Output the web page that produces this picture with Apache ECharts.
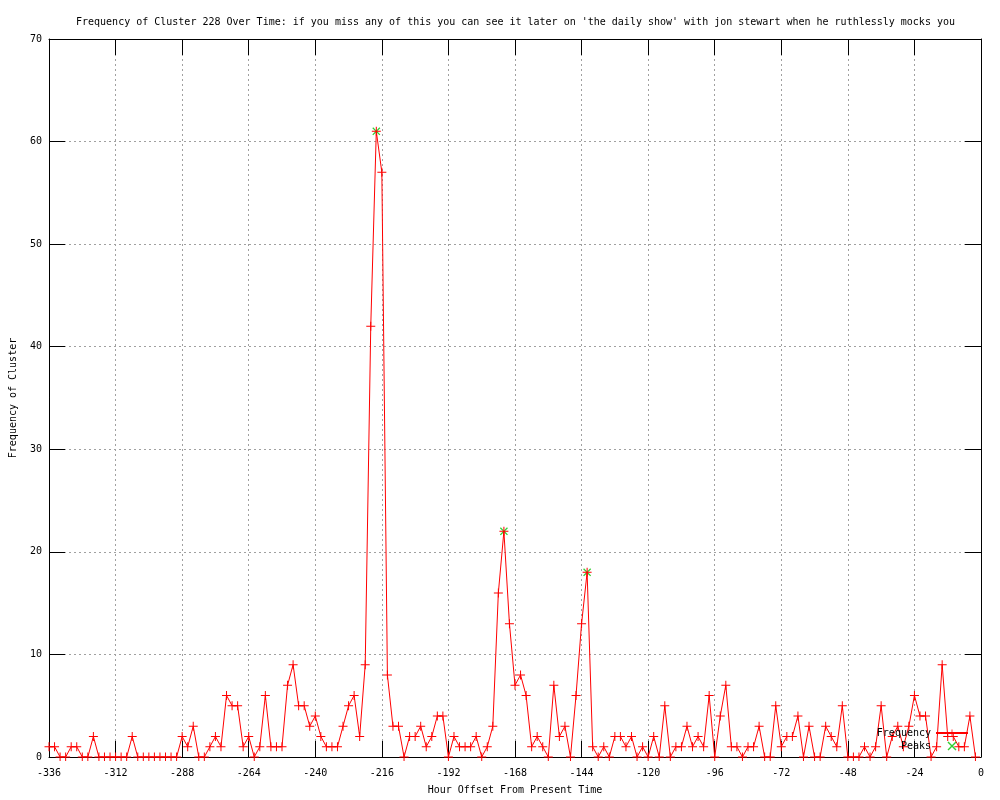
<!DOCTYPE html>
<html>
<head>
<meta charset="utf-8">
<script src="https://cdn.jsdelivr.net/npm/echarts@6/dist/echarts.min.js"></script>
<style>html,body{margin:0;padding:0;background:#fff;}#c{width:1000px;height:800px;}</style>
</head>
<body>
<div id="c"></div>
<script>
const titleText = "Frequency of Cluster 228 Over Time: if you miss any of this you can see it later on 'the daily show' with jon stewart when he ruthlessly mocks you";
const xAxisName = "Hour Offset From Present Time";
const yAxisName = "Frequency of Cluster";

const hours = [
  -336,-334,-332,-330,-328,-326,-324,-322,-320,-318,
  -316,-314,-312,-310,-308,-306,-304,-302,-300,-298,
  -296,-294,-292,-290,-288,-286,-284,-282,-280,-278,
  -276,-274,-272,-270,-268,-266,-264,-262,-260,-258,
  -256,-254,-252,-250,-248,-246,-244,-242,-240,-238,
  -236,-234,-232,-230,-228,-226,-224,-222,-220,-218,
  -216,-214,-212,-210,-208,-206,-204,-202,-200,-198,
  -196,-194,-192,-190,-188,-186,-184,-182,-180,-178,
  -176,-174,-172,-170,-168,-166,-164,-162,-160,-158,
  -156,-154,-152,-150,-148,-146,-144,-142,-140,-138,
  -136,-134,-132,-130,-128,-126,-124,-122,-120,-118,
  -116,-114,-112,-110,-108,-106,-104,-102,-100,-98,
  -96,-94,-92,-90,-88,-86,-84,-82,-80,-78,
  -76,-74,-72,-70,-68,-66,-64,-62,-60,-58,
  -56,-54,-52,-50,-48,-46,-44,-42,-40,-38,
  -36,-34,-32,-30,-28,-26,-24,-22,-20,-18,
  -16,-14,-12,-10,-8,-6,-4,-2
];

const frequency = [
  1,1,0,0,1,1,0,0,2,0,
  0,0,0,0,0,2,0,0,0,0,
  0,0,0,0,2,1,3,0,0,1,
  2,1,6,5,5,1,2,0,1,6,
  1,1,1,7,9,5,5,3,4,2,
  1,1,1,3,5,6,2,9,42,61,
  57,8,3,3,0,2,2,3,1,2,
  4,4,0,2,1,1,1,2,0,1,
  3,16,22,13,7,8,6,1,2,1,
  0,7,2,3,0,6,13,18,1,0,
  1,0,2,2,1,2,0,1,0,2,
  0,5,0,1,1,3,1,2,1,6,
  0,4,7,1,1,0,1,1,3,0,
  0,5,1,2,2,4,0,3,0,0,
  3,2,1,5,0,0,0,1,0,1,
  5,0,2,3,1,3,6,4,4,0,
  1,9,2,2,1,1,4,0
];

const peakHours = [-218, -172, -142];
const peakValues = [61, 22, 18];

const xTicks = { min: -336, max: 0, interval: 24 };
const yTicks = { min: 0, max: 70, interval: 10 };

const FONT = 'DejaVu Sans Mono';
const plusPath = 'path://M4,0h1v4h4v1h-4v4h-1v-4h-4v-1h4z';
const xPath = 'path://M0,1L1,0L4.5,3.5L8,0L9,1L5.5,4.5L9,8L8,9L4.5,5.5L1,9L0,8L3.5,4.5Z';

const chart = echarts.init(document.getElementById('c'), null, { renderer: 'canvas' });

const gridLine = { show: true, lineStyle: { color: '#a0a0a0', type: [2, 3], width: 1 } };
const axisLineStyle = { show: true, onZero: false, lineStyle: { color: '#000', width: 1 } };
const tickStyle = { show: true, inside: true, length: 16, lineStyle: { color: '#000', width: 1 } };
const labelText = { color: '#000', fontFamily: FONT, fontSize: 10 };

const option = {
  animation: false,
  backgroundColor: '#fff',
  title: {
    text: titleText,
    left: 71,
    top: 12,
    textStyle: { color: '#000', fontFamily: FONT, fontSize: 10, fontWeight: 'normal' }
  },
  grid: { left: 49, right: 19, top: 39, bottom: 40, containLabel: false },
  legend: {
    data: ['Frequency', 'Peaks'],
    orient: 'vertical',
    right: 31,
    top: 727,
    align: 'right',
    itemWidth: 32,
    itemHeight: 9,
    itemGap: 1,
    padding: 0,
    textStyle: { color: '#000', fontFamily: FONT, fontSize: 10, lineHeight: 12 }
  },
  graphic: [
    {
      type: 'rect', z: 100, silent: true,
      shape: { x: 44, y: 761, width: 942, height: 4 },
      style: { fill: '#fff' }
    }
  ],
  xAxis: [
    {
      type: 'value', position: 'bottom',
      min: xTicks.min, max: xTicks.max, interval: xTicks.interval,
      name: xAxisName, nameLocation: 'middle', nameGap: 28,
      nameTextStyle: labelText,
      axisLine: axisLineStyle, axisTick: tickStyle,
      axisLabel: Object.assign({ margin: 11 }, labelText),
      splitLine: gridLine
    },
    {
      type: 'value', position: 'top',
      min: xTicks.min, max: xTicks.max, interval: xTicks.interval,
      axisLine: axisLineStyle, axisTick: tickStyle,
      axisLabel: { show: false }, splitLine: { show: false }
    }
  ],
  yAxis: [
    {
      type: 'value', position: 'left',
      min: yTicks.min, max: yTicks.max, interval: yTicks.interval,
      name: yAxisName, nameLocation: 'middle', nameGap: 31,
      nameTextStyle: labelText,
      axisLine: axisLineStyle, axisTick: tickStyle,
      axisLabel: Object.assign({ margin: 7 }, labelText),
      splitLine: gridLine
    },
    {
      type: 'value', position: 'right',
      min: yTicks.min, max: yTicks.max, interval: yTicks.interval,
      axisLine: axisLineStyle, axisTick: tickStyle,
      axisLabel: { show: false }, splitLine: { show: false }
    }
  ],
  series: [
    {
      name: 'Frequency',
      type: 'line',
      xAxisIndex: 0, yAxisIndex: 0,
      data: hours.map((h, i) => [h, frequency[i]]),
      showAllSymbol: true,
      symbol: plusPath,
      symbolSize: 9,
      lineStyle: { color: '#ff0000', width: 1 },
      itemStyle: { color: '#ff0000' },
      emphasis: { disabled: true },
      z: 3
    },
    {
      name: 'Peaks',
      type: 'scatter',
      xAxisIndex: 0, yAxisIndex: 0,
      data: peakHours.map((h, i) => [h, peakValues[i]]),
      symbol: xPath,
      symbolSize: 8,
      itemStyle: { color: '#00c000' },
      emphasis: { disabled: true },
      z: 2
    }
  ]
};

chart.setOption(option);
</script>
</body>
</html>
